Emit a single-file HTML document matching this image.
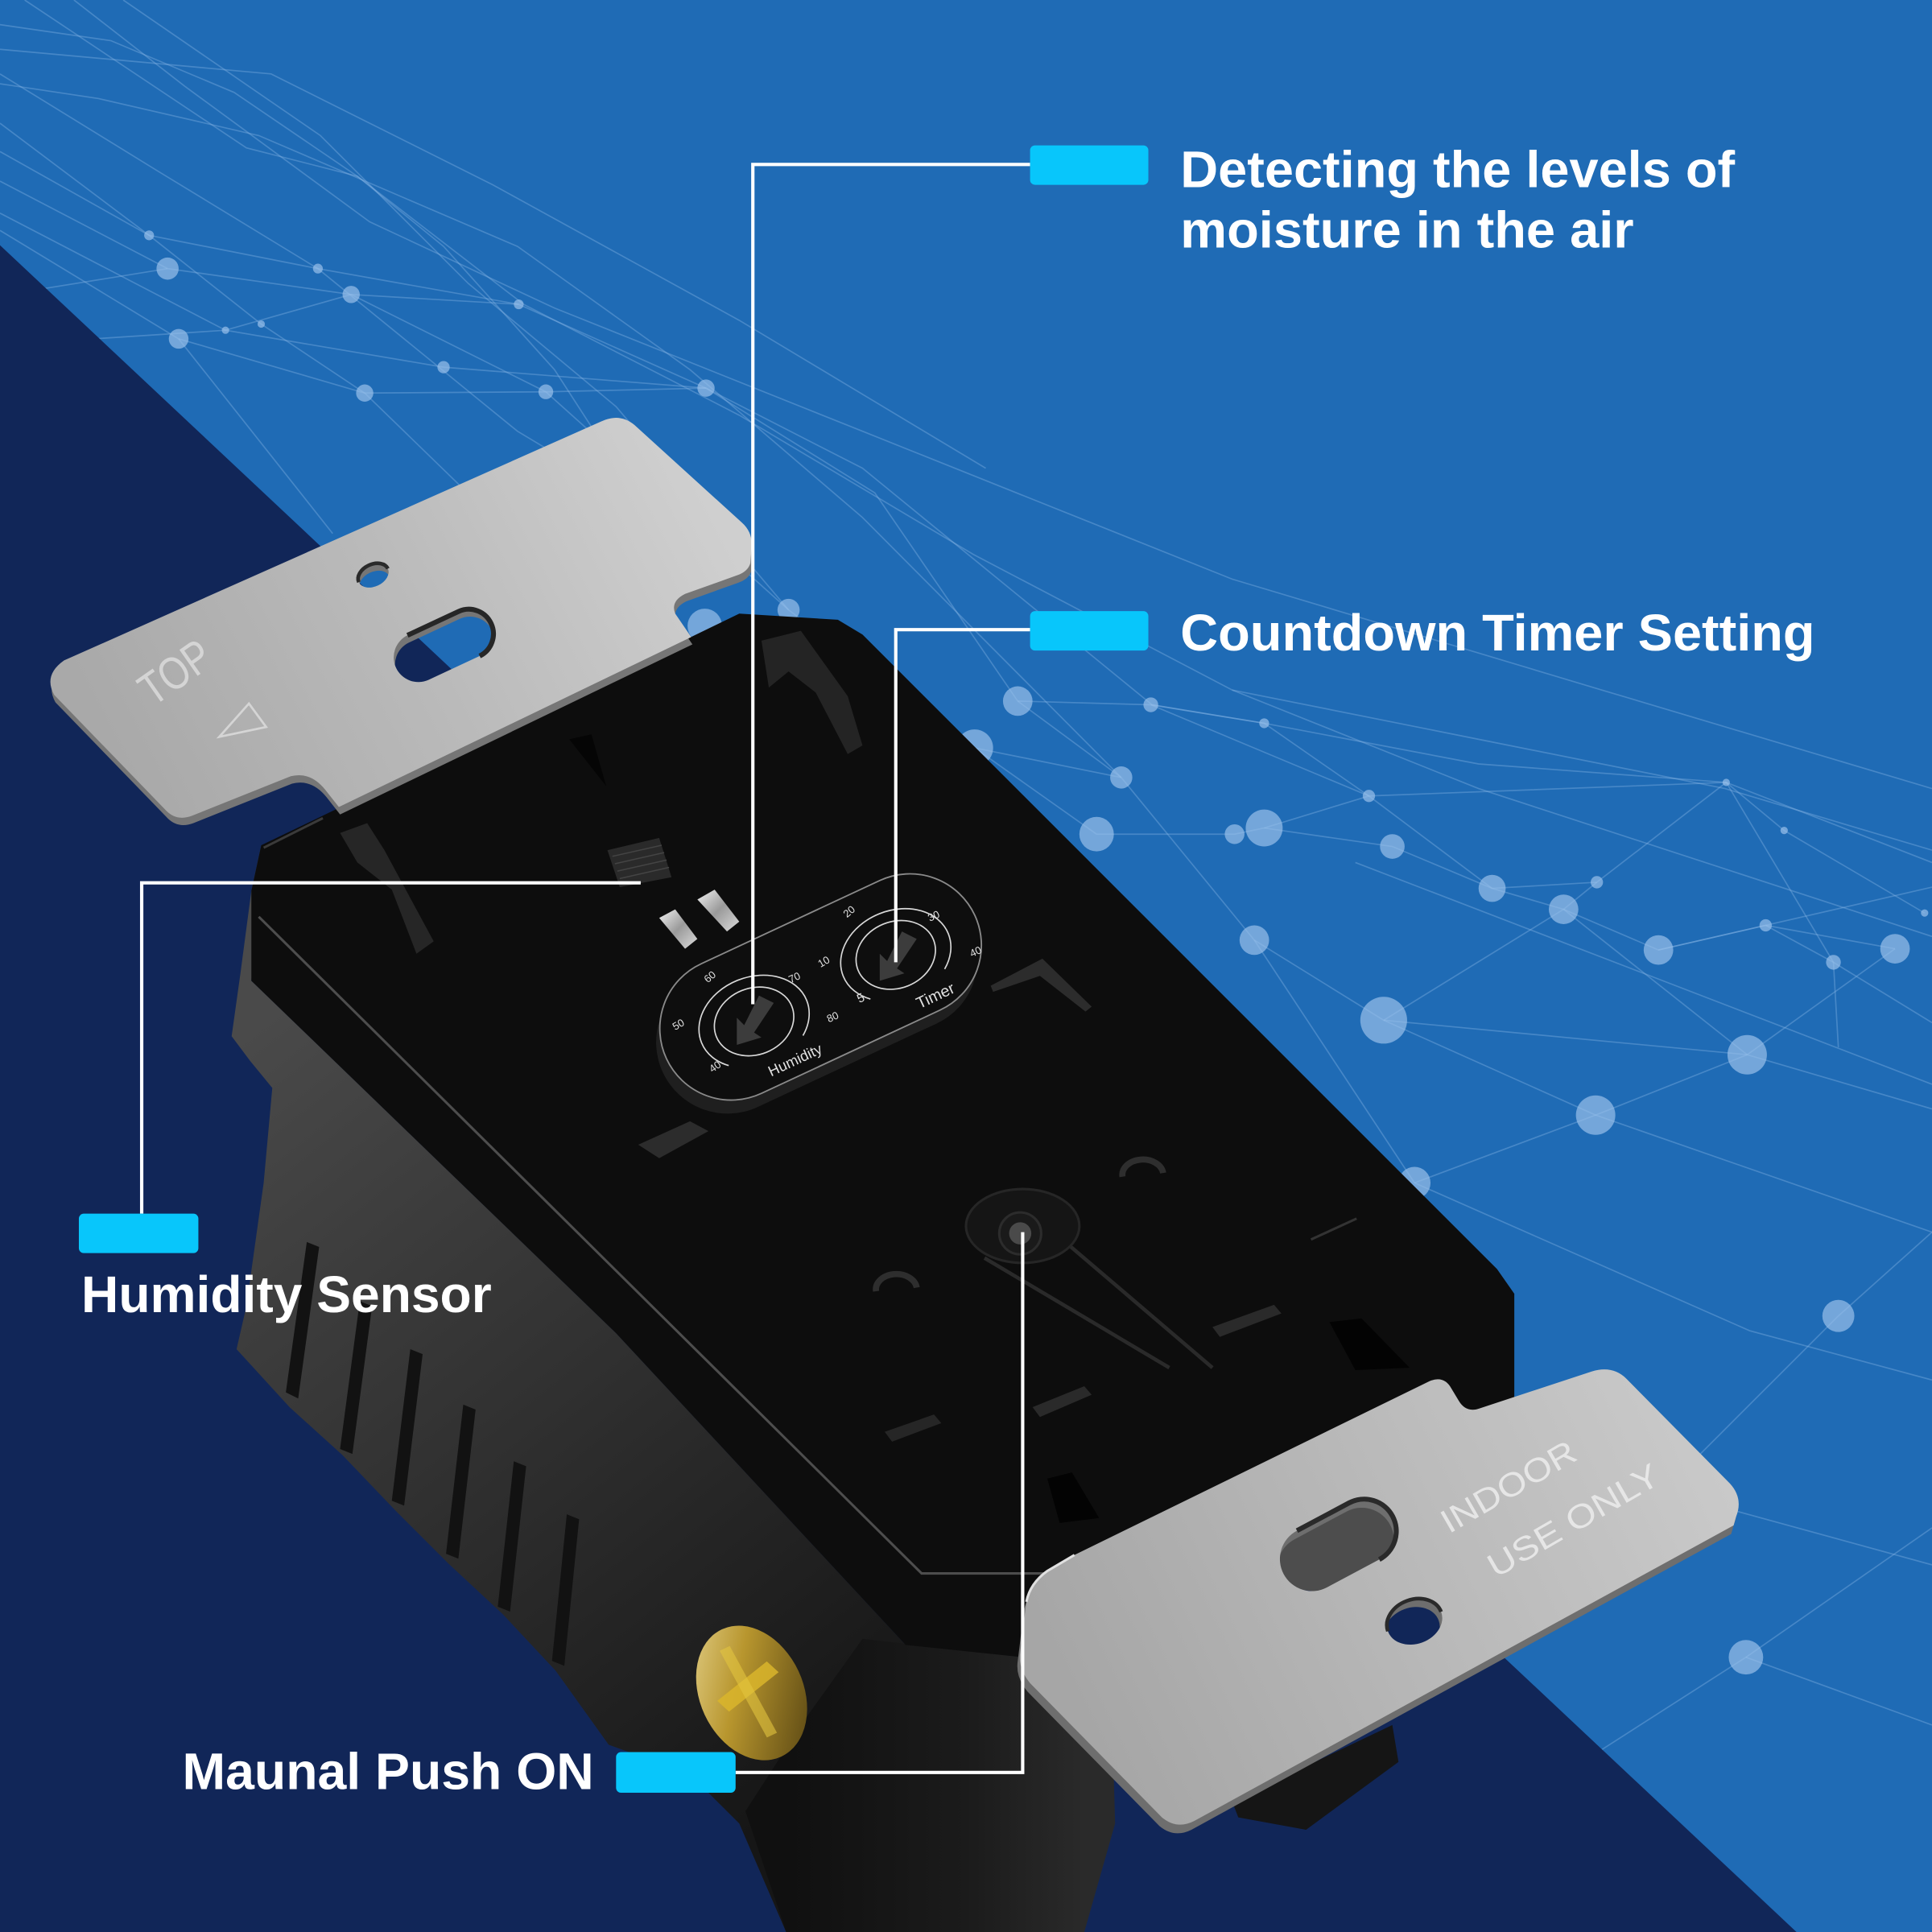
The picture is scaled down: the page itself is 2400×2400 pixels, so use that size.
<!DOCTYPE html>
<html><head><meta charset="utf-8"><style>html,body{margin:0;padding:0;background:#1f6bb5}svg{display:block}</style></head>
<body>
<svg width="2400" height="2400" viewBox="0 0 1568 1568" xmlns="http://www.w3.org/2000/svg">
<defs>
<linearGradient id="plateT" gradientUnits="userSpaceOnUse" x1="560" y1="380" x2="100" y2="620"><stop offset="0" stop-color="#cfcfcf"/><stop offset="0.5" stop-color="#bababa"/><stop offset="1" stop-color="#a9a9a9"/></linearGradient>
<linearGradient id="plateB" gradientUnits="userSpaceOnUse" x1="1380" y1="1160" x2="880" y2="1400"><stop offset="0" stop-color="#c9c9c9"/><stop offset="0.5" stop-color="#b8b8b8"/><stop offset="1" stop-color="#a6a6a6"/></linearGradient>
<linearGradient id="side" gradientUnits="userSpaceOnUse" x1="220" y1="820" x2="700" y2="1420"><stop offset="0" stop-color="#4a4a4a"/><stop offset="0.45" stop-color="#333"/><stop offset="1" stop-color="#161616"/></linearGradient>
<linearGradient id="col" gradientUnits="userSpaceOnUse" x1="640" y1="0" x2="880" y2="0"><stop offset="0" stop-color="#101010"/><stop offset="0.6" stop-color="#1b1b1b"/><stop offset="1" stop-color="#2a2a2a"/></linearGradient>
<linearGradient id="gold" x1="0" y1="0" x2="1" y2="1"><stop offset="0" stop-color="#e6d490"/><stop offset="0.4" stop-color="#b8962e"/><stop offset="1" stop-color="#4e3d10"/></linearGradient>
<linearGradient id="pin" x1="0" y1="0" x2="1" y2="1"><stop offset="0" stop-color="#f2f2f2"/><stop offset="0.5" stop-color="#9a9a9a"/><stop offset="1" stop-color="#dcdcdc"/></linearGradient>
</defs>

<rect width="1568" height="1568" fill="#1f6bb5"/>

<!-- network lines -->
<g fill="none" stroke="#8cbbe9" stroke-opacity="0.36" stroke-width="1.1">
<polyline points="0,20 90,33 190,75 290,143 425,247 600,337 790,450 1000,560 1200,640 1568,760"/>
<polyline points="0,68 80,80 210,110 280,140 420,200 560,300 700,420 910,631"/>
<polyline points="0,123 121,191 258,218 421,247 573,315 710,400 826,569"/>
<polyline points="0,147 136,218 285,239 421,247"/>
<polyline points="0,187 145,275 296,319 443,318 573,315 700,380 935,572 1026,587 1111,646 1401,635 1568,700"/>
<polyline points="0,173 183,268 360,298 573,315"/>
<polyline points="145,275 270,433"/>
<polyline points="0,240 136,218"/>
<polyline points="0,100 121,191 212,263 296,319 400,420"/>
<polyline points="20,0 200,120 290,143 360,200 450,300 560,470"/>
<polyline points="0,280 183,268 285,239 443,318 640,495 791,607 910,631"/>
<polyline points="0,60 130,140 258,218 420,350 520,410"/>
<polyline points="60,0 150,70 300,180 450,250 700,350 1000,470 1300,560 1568,640"/>
<polyline points="0,40 220,60 400,150 600,260 800,380"/>
<polyline points="100,0 260,110 380,230 500,330 640,495"/>
<polyline points="826,569 934,572 1026,587 1200,620 1401,635 1448,674 1562,741"/>
<polyline points="826,569 910,631 1018,763 1123,828 1269,738 1296,716"/>
<polyline points="791,607 890,677 1002,677 1026,672 1111,646"/>
<polyline points="1026,672 1130,687 1211,721 1269,738 1346,771 1433,751 1488,781 1568,830"/>
<polyline points="1211,721 1296,716 1401,635"/>
<polyline points="1123,828 1418,856 1568,900"/>
<polyline points="1123,828 1295,905 1418,856 1538,770"/>
<polyline points="1295,905 1568,1000"/>
<polyline points="1148,960 1295,905"/>
<polyline points="1148,960 1420,1080 1568,1120"/>
<polyline points="1492,1068 1568,1000"/>
<polyline points="1417,1345 1568,1240"/>
<polyline points="1240,1180 1568,1270"/>
<polyline points="1300,1420 1417,1345 1568,1400"/>
<polyline points="1401,635 1488,781 1492,850"/>
<polyline points="1433,751 1538,770"/>
<polyline points="1018,763 1148,960"/>
<polyline points="934,572 1111,646 1211,721"/>
<polyline points="1269,738 1418,856"/>
<polyline points="1568,720 1433,751 1346,771"/>
<polyline points="1100,700 1568,880"/>
<polyline points="1492,1068 1330,1230"/>
<polyline points="1000,560 1200,600 1400,640 1568,690"/>
</g>
<g fill="#9cc3ec" fill-opacity="0.68">
<circle cx="121" cy="191" r="4"/><circle cx="136" cy="218" r="9"/><circle cx="145" cy="275" r="8"/><circle cx="183" cy="268" r="3"/><circle cx="212" cy="263" r="3"/><circle cx="258" cy="218" r="4"/><circle cx="285" cy="239" r="7"/><circle cx="296" cy="319" r="7"/><circle cx="360" cy="298" r="5"/><circle cx="421" cy="247" r="4"/><circle cx="443" cy="318" r="6"/><circle cx="573" cy="315" r="7"/><circle cx="572" cy="508" r="14"/><circle cx="640" cy="495" r="9"/><circle cx="791" cy="607" r="15"/><circle cx="826" cy="569" r="12"/><circle cx="934" cy="572" r="6"/><circle cx="1026" cy="587" r="4"/><circle cx="910" cy="631" r="9"/><circle cx="1111" cy="646" r="5"/><circle cx="890" cy="677" r="14"/><circle cx="1002" cy="677" r="8"/><circle cx="1026" cy="672" r="15"/><circle cx="1130" cy="687" r="10"/><circle cx="1211" cy="721" r="11"/><circle cx="1269" cy="738" r="12"/><circle cx="1296" cy="716" r="5"/><circle cx="1346" cy="771" r="12"/><circle cx="1433" cy="751" r="5"/><circle cx="1488" cy="781" r="6"/><circle cx="1538" cy="770" r="12"/><circle cx="1018" cy="763" r="12"/><circle cx="1123" cy="828" r="19"/><circle cx="1418" cy="856" r="16"/><circle cx="1295" cy="905" r="16"/><circle cx="1148" cy="960" r="13"/><circle cx="1492" cy="1068" r="13"/><circle cx="1401" cy="635" r="3"/><circle cx="1448" cy="674" r="3"/><circle cx="1562" cy="741" r="3"/><circle cx="1417" cy="1345" r="14"/>
</g>

<!-- navy diagonal -->
<polygon points="0,199 1458,1568 0,1568" fill="#112658"/>

<!-- body side wall / silhouette -->
<polygon fill="url(#side)" points="212,686 204,723 195,791 188,841 203,861 221,883 214,960 200,1060 192,1095 235,1142 278,1181 321,1226 364,1269 408,1310 451,1356 494,1416 560,1440 600,1480 638,1568 880,1568 830,1345 735,1335 500,1082 204,796"/>
<!-- ribs -->
<g fill="#121212">
<polygon points="249,1008 259,1012 242,1135 232,1130"/>
<polygon points="292,1056 302,1060 286,1180 276,1176"/>
<polygon points="333,1095 343,1099 328,1222 318,1218"/>
<polygon points="376,1140 386,1144 372,1265 362,1261"/>
<polygon points="417,1186 427,1190 414,1308 404,1304"/>
<polygon points="460,1229 470,1233 458,1352 448,1348"/>
</g>
<!-- bottom column -->
<polygon fill="url(#col)" points="700,1330 830,1345 900,1300 905,1480 880,1568 638,1568 605,1470 650,1400"/>
<polygon fill="#151515" points="1000,1462 1130,1400 1135,1430 1060,1485 1005,1475"/>
<!-- screw -->
<g transform="translate(610,1374) rotate(-25)">
<ellipse rx="42" ry="57" fill="url(#gold)"/>
<path d="M-28,-6 L22,-18 L27,-6 L-23,6 Z" fill="#d9b52c" opacity="0.85"/>
<path d="M-9,-42 L0,-42 L5,38 L-4,38 Z" fill="#e3c440" opacity="0.6"/>
</g>

<!-- front face -->
<polygon fill="#0d0d0d" points="212,686 262,662 600,498 680,503 700,515 1215,1030 1229,1050 1229,1140 900,1300 830,1345 735,1335 500,1082 204,796 204,723"/>
<polyline points="210,744 748,1277 848,1277" fill="none" stroke="#4d4d4d" stroke-width="2"/>
<polyline points="214,688 262,664" fill="none" stroke="#3a3a3a" stroke-width="2"/>

<!-- face raised features -->
<polygon fill="#262626" points="276,676 298,668 312,690 352,764 338,774 318,722 290,700"/>
<polygon fill="#242424" points="618,520 650,512 688,565 700,605 688,612 662,562 640,545 624,558"/>
<polygon fill="#050505" points="462,600 480,596 492,638"/>
<polygon fill="#2a2a2a" points="493,690 535,680 545,712 503,720"/>
<g stroke="#444" stroke-width="1"><line x1="497" y1="695" x2="537" y2="686"/><line x1="499" y1="701" x2="539" y2="692"/><line x1="501" y1="707" x2="541" y2="698"/><line x1="503" y1="713" x2="543" y2="704"/></g>
<polygon fill="url(#pin)" points="535,745 548,738 566,762 556,770"/>
<polygon fill="url(#pin)" points="566,730 580,722 600,748 590,756"/>
<polygon fill="#2c2c2c" points="518,929 560,910 575,918 535,940"/>
<polygon fill="#2c2c2c" points="804,800 846,778 886,817 881,821 844,792 806,805"/>
<polygon fill="#2a2a2a" points="984,1077 1034,1059 1040,1066 990,1085"/>
<polygon fill="#030303" points="1079,1073 1105,1070 1144,1110 1100,1112"/>
<line x1="1064" y1="1006" x2="1101" y2="989" stroke="#333" stroke-width="2"/>
<polygon fill="#2a2a2a" points="838,1142 880,1125 886,1132 844,1150"/>
<polygon fill="#262626" points="718,1162 758,1148 764,1155 724,1170"/>
<polygon fill="#030303" points="850,1200 870,1195 892,1232 860,1236"/>
<path d="M911,955 A16,12 0 0 1 944,952" fill="none" stroke="#2e2e2e" stroke-width="5"/>
<path d="M711,1048 A16,12 0 0 1 744,1045" fill="none" stroke="#2e2e2e" stroke-width="5"/>
<!-- button & slot -->
<polyline points="854,999 984,1110" fill="none" stroke="#2a2a2a" stroke-width="3"/>
<polyline points="799,1021 949,1110" fill="none" stroke="#2a2a2a" stroke-width="3"/>
<ellipse cx="830" cy="995" rx="46" ry="30" fill="#151515" stroke="#262626" stroke-width="2"/>
<circle cx="828" cy="1001" r="17" fill="#1a1a1a" stroke="#2c2c2c" stroke-width="2"/>
<circle cx="828" cy="1001" r="9" fill="#4a4a4a"/>

<!-- dial plate -->
<g transform="translate(663,812) rotate(-25)"><rect x="-138" y="-58" width="276" height="116" rx="58" fill="#1f1f1f"/></g>
<g transform="translate(666,801) rotate(-25)"><rect x="-138" y="-58" width="276" height="116" rx="58" fill="#0e0e0e" stroke="#8a8a8a" stroke-width="1.2"/></g>
<g fill="none" stroke="#d8d8d8" stroke-width="1.1">
<g transform="translate(612,829) rotate(-22)">
<ellipse rx="33" ry="27"/>
<path d="M-32.5,25.5 A46,36 0 1 1 32.5,25.5"/>
</g>
<g transform="translate(727,775) rotate(-22)">
<ellipse rx="33" ry="27"/>
<path d="M-32.5,25.5 A46,36 0 1 1 32.5,25.5"/>
</g>
</g>
<polygon fill="#3c3c3c" points="616,808 628,814 612,838 618,842 598,848 598,826 604,832"/>
<polygon fill="#3c3c3c" points="732,756 744,762 728,786 734,790 714,796 714,774 720,780"/>
<g font-family="Liberation Sans, sans-serif" fill="#e0e0e0" font-size="8.5">
<text x="578" y="795" transform="rotate(-40 578 795)" text-anchor="middle">60</text>
<text x="646" y="796" transform="rotate(-25 646 796)" text-anchor="middle">70</text>
<text x="552" y="834" transform="rotate(-30 552 834)" text-anchor="middle">50</text>
<text x="677" y="828" transform="rotate(-25 677 828)" text-anchor="middle">80</text>
<text x="582" y="868" transform="rotate(-35 582 868)" text-anchor="middle">40</text>
<text x="691" y="742" transform="rotate(-40 691 742)" text-anchor="middle">20</text>
<text x="759" y="746" transform="rotate(-25 759 746)" text-anchor="middle">30</text>
<text x="670" y="783" transform="rotate(-30 670 783)" text-anchor="middle">10</text>
<text x="793" y="775" transform="rotate(-25 793 775)" text-anchor="middle">40</text>
<text x="700" y="813" transform="rotate(-25 700 813)" text-anchor="middle" font-size="10">5</text>
<text x="647" y="864" transform="rotate(-25 647 864)" text-anchor="middle" font-size="12">Humidity</text>
<text x="761" y="812" transform="rotate(-25 761 812)" text-anchor="middle" font-size="13">Timer</text>
</g>

<!-- top plate -->
<path transform="translate(1,6)" fill="#767676" fill-rule="evenodd" d="M52,536 L488,342 Q503,335 515,345 L602,424 Q611,432 610,444 L609,457 Q607,464 598,467 L556,482 Q544,488 548,498 L561,517 L275,655 L264,641 Q252,626 236,630 L156,662 Q143,667 134,657 L44,564 Q35,548 52,536 Z M291.2,472.5 A13,9 -25 1 0 314.8,461.5 A13,9 -25 1 0 291.2,472.5 Z M330.7,515.6 L372.3,496.2 A20,20 0 0 1 389.3,532.4 L347.7,551.8 A20,20 0 0 1 330.7,515.6 Z"/>
<path fill="url(#plateT)" fill-rule="evenodd" d="M52,536 L488,342 Q503,335 515,345 L602,424 Q611,432 610,444 L609,457 Q607,464 598,467 L556,482 Q544,488 548,498 L561,517 L275,655 L264,641 Q252,626 236,630 L156,662 Q143,667 134,657 L44,564 Q35,548 52,536 Z M291.2,472.5 A13,9 -25 1 0 314.8,461.5 A13,9 -25 1 0 291.2,472.5 Z M330.7,515.6 L372.3,496.2 A20,20 0 0 1 389.3,532.4 L347.7,551.8 A20,20 0 0 1 330.7,515.6 Z"/>
<path d="M291.2,472.5 A13,9 -25 0 1 314.8,461.5" fill="none" stroke="#2a2a2a" stroke-width="3"/>
<path d="M330.7,515.6 L372.3,496.2 A20,20 0 0 1 389.3,532.4" fill="none" stroke="#262626" stroke-width="4"/>
<g transform="translate(124,574) rotate(-35)"><text x="0" y="0" font-family="Liberation Sans, sans-serif" font-size="34" fill="#e2e2e2" fill-opacity="0.75" transform="scale(0.9,1.1)">TOP</text></g>
<polygon points="202,571 178,598 216,590" fill="none" stroke="#e2e2e2" stroke-opacity="0.75" stroke-width="1.8"/>

<!-- bottom plate -->
<ellipse cx="1086" cy="1254" rx="52" ry="32" transform="rotate(-28 1086 1254)" fill="#4d4d4d"/>
<path transform="translate(-2,7)" fill="#6e6e6e" fill-rule="evenodd" d="M872,1262 L1160,1121 Q1172,1116 1178,1127 L1184,1137 Q1190,1147 1201,1143 L1292,1113 Q1309,1108 1320,1119 L1404,1204 Q1415,1216 1409,1231 L1407,1238 L969,1478 Q955,1485 943,1475 L836,1366 Q826,1354 828,1341 L833,1300 Q836,1285 850,1275 Z M1052.6,1242.3 L1095,1219.7 A26,26 0 0 1 1119.4,1265.7 L1077,1288.3 A26,26 0 0 1 1052.6,1242.3 Z M1126.4,1323.9 A23,18 -20 1 0 1169.6,1308.1 A23,18 -20 1 0 1126.4,1323.9 Z"/>
<path fill="url(#plateB)" fill-rule="evenodd" d="M872,1262 L1160,1121 Q1172,1116 1178,1127 L1184,1137 Q1190,1147 1201,1143 L1292,1113 Q1309,1108 1320,1119 L1404,1204 Q1415,1216 1409,1231 L1407,1238 L969,1478 Q955,1485 943,1475 L836,1366 Q826,1354 828,1341 L833,1300 Q836,1285 850,1275 Z M1052.6,1242.3 L1095,1219.7 A26,26 0 0 1 1119.4,1265.7 L1077,1288.3 A26,26 0 0 1 1052.6,1242.3 Z M1126.4,1323.9 A23,18 -20 1 0 1169.6,1308.1 A23,18 -20 1 0 1126.4,1323.9 Z"/>
<path d="M1052.6,1242.3 L1095,1219.7 A26,26 0 0 1 1119.4,1265.7" fill="none" stroke="#2a2a2a" stroke-width="4"/>
<path d="M1126.4,1323.9 A23,18 -20 0 1 1169.6,1308.1" fill="none" stroke="#2a2a2a" stroke-width="3"/>
<path d="M872,1262 L850,1275 Q836,1285 833,1300" fill="none" stroke="#e0e0e0" stroke-width="2"/>
<g font-family="Liberation Sans, sans-serif" fill="#ececec" fill-opacity="0.85" font-size="27">
<text x="1176" y="1245" transform="rotate(-30 1176 1245)" textLength="122" lengthAdjust="spacingAndGlyphs">INDOOR</text>
<text x="1214" y="1281" transform="rotate(-30 1214 1281)" textLength="156" lengthAdjust="spacingAndGlyphs">USE ONLY</text>
</g>

<!-- connectors -->
<g fill="none" stroke="#ffffff" stroke-width="2.7">
<polyline points="836,133.5 611,133.5 611,815"/>
<polyline points="836,511 727,511 727,781"/>
<polyline points="520,716.5 115,716.5 115,985"/>
<polyline points="597,1438.5 830,1438.5 830,1000"/>
</g>
<g fill="#08c6fb">
<rect x="836" y="118" width="96" height="32" rx="4"/>
<rect x="836" y="496" width="96" height="32" rx="4"/>
<rect x="64" y="985" width="97" height="32" rx="4"/>
<rect x="500" y="1422" width="97" height="33" rx="4"/>
</g>

<!-- labels -->
<g font-family="Liberation Sans, sans-serif" font-weight="bold" font-size="42" fill="#ffffff">
<text x="958" y="152" textLength="450" lengthAdjust="spacingAndGlyphs">Detecting the levels of</text>
<text x="958" y="201" textLength="368" lengthAdjust="spacingAndGlyphs">moisture in the air</text>
<text x="958" y="528" textLength="515" lengthAdjust="spacingAndGlyphs">Countdown Timer Setting</text>
<text x="66" y="1065" textLength="333" lengthAdjust="spacingAndGlyphs">Humidity Sensor</text>
<text x="148" y="1452" textLength="334" lengthAdjust="spacingAndGlyphs">Maunal Push ON</text>
</g>
</svg>
</body></html>
